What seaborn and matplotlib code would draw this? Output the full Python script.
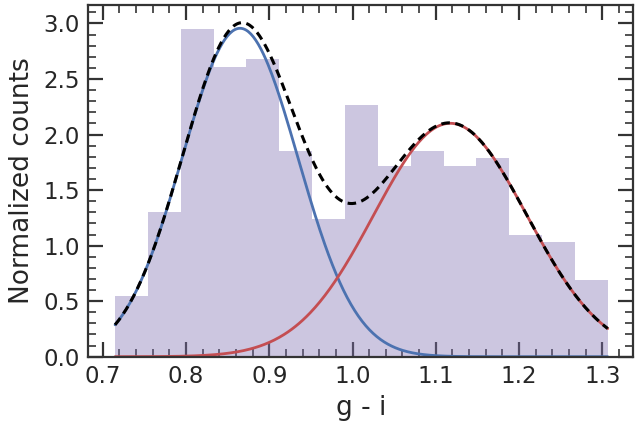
import numpy as np
import pandas as pd
import matplotlib
matplotlib.use("Agg")
import matplotlib.pyplot as plt
from matplotlib.ticker import MultipleLocator
import seaborn as sns

# Histogram: 15 bins of g - i colour
bin_lo = 0.7148
bin_hi = 1.3065
counts = [8, 19, 43, 38, 39, 27, 18, 33, 25, 27, 25, 26, 16, 15, 10]

# Two-Gaussian fit components (mean, sigma, peak amplitude)
comp_mean = [0.8649, 1.1173]
comp_sigma = [0.0695, 0.0920]
comp_amp = [2.956, 2.101]
comp_color = ["#4C72B0", "#C44E52"]

x_label = "g - i"
y_label = "Normalized counts"

sns.set_theme(style="ticks", context="talk")
plt.rcParams["font.family"] = ["DejaVu Sans"]

fig = plt.figure(figsize=(6.41, 4.23), dpi=100)
ax = fig.add_axes([0.1378, 0.1567, 0.988 - 0.1378, 0.988 - 0.1567])

nb = len(counts)
width = (bin_hi - bin_lo) / nb
centers = [bin_lo + (i + 0.5) * width for i in range(nb)]
hist_df = pd.DataFrame({"x": centers, "w": counts})
sns.histplot(data=hist_df, x="x", weights="w", bins=nb, binrange=(bin_lo, bin_hi),
             stat="density", color="#8172B3", alpha=0.4, linewidth=0, ax=ax)

xs = np.linspace(bin_lo, bin_hi, 400)
total = np.zeros_like(xs)
for m, s, a, c in zip(comp_mean, comp_sigma, comp_amp, comp_color):
    ys = a * np.exp(-0.5 * ((xs - m) / s) ** 2)
    total += ys
    sns.lineplot(x=xs, y=ys, color=c, lw=2.0, ax=ax)
sns.lineplot(x=xs, y=total, color="black", lw=2.2, ax=ax)
ax.lines[-1].set_dashes((2.8, 1.8))

ax.set_xlim(0.6827, 1.3372)
ax.set_ylim(0, 3.165)
ax.xaxis.set_major_locator(MultipleLocator(0.1))
ax.xaxis.set_minor_locator(MultipleLocator(0.02))
ax.yaxis.set_major_locator(MultipleLocator(0.5))
ax.yaxis.set_minor_locator(MultipleLocator(0.1))
ax.tick_params(which="both", direction="in", top=True, right=True, colors="#333333",
               labelcolor="#262626")
ax.tick_params(which="major", length=11, width=1.6, labelsize=16.5, pad=6)
ax.tick_params(which="minor", length=5.5, width=1.2)
for sp in ax.spines.values():
    sp.set_visible(True)
    sp.set_linewidth(1.6)
    sp.set_color("#333333")
ax.set_xlabel(x_label, fontsize=19, color="#262626", labelpad=5)
ax.set_ylabel(y_label, fontsize=19, color="#262626", labelpad=6)

fig.savefig("out.png", dpi=100)
